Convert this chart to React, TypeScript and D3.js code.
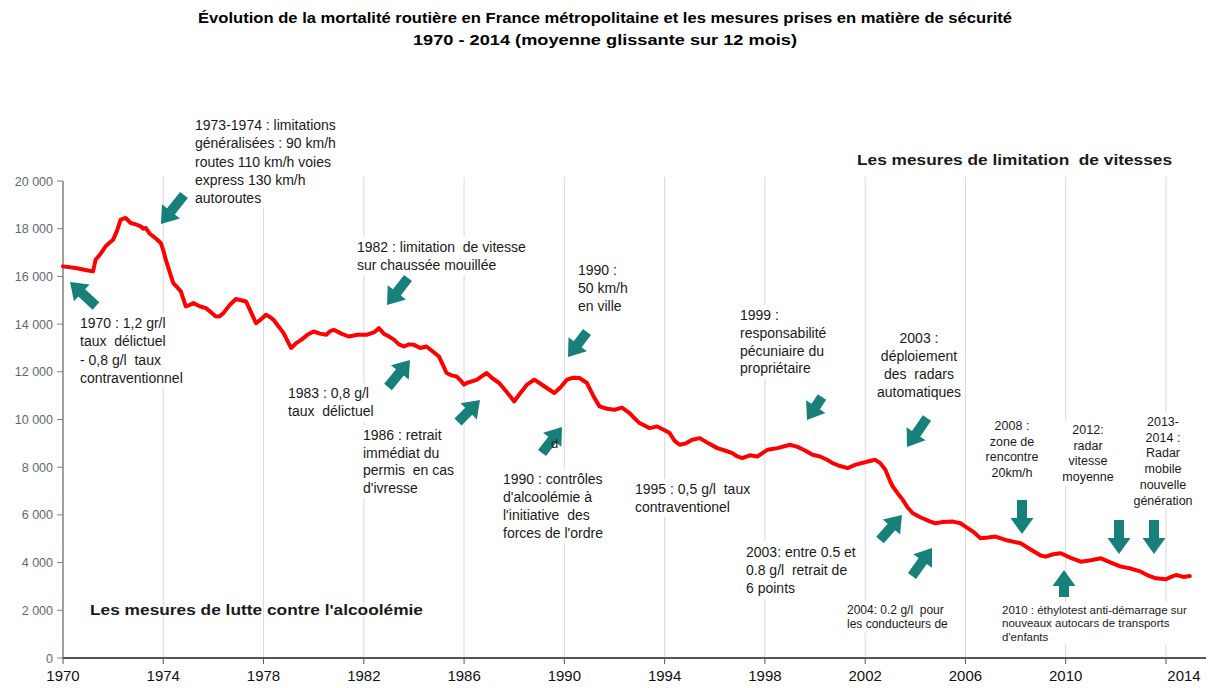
import * as d3 from "d3";
import { useEffect, useRef } from "react";

// road deaths, 12-month rolling average
const years = [
	1970.0, 1970.5, 1971.0, 1971.2, 1971.3, 1971.5, 1971.7, 1971.9, 1972.0, 1972.15, 1972.3, 1972.5, 1972.7, 1972.9,
	1973.1, 1973.2, 1973.3, 1973.45, 1973.6, 1973.75, 1973.9, 1974.0, 1974.1, 1974.25, 1974.4, 1974.55, 1974.7, 1974.9,
	1975.05, 1975.2, 1975.45, 1975.7, 1975.9, 1976.1, 1976.25, 1976.4, 1976.65, 1976.9, 1977.1, 1977.3, 1977.5, 1977.7,
	1977.9, 1978.1, 1978.25, 1978.4, 1978.6, 1978.8, 1979.0, 1979.1, 1979.3, 1979.5, 1979.75, 1980.0, 1980.25, 1980.5,
	1980.65, 1980.8, 1981.1, 1981.4, 1981.75, 1982.1, 1982.4, 1982.6, 1982.8, 1983.0, 1983.2, 1983.4, 1983.6, 1983.8,
	1984.0, 1984.25, 1984.5, 1984.75, 1985.0, 1985.15, 1985.3, 1985.5, 1985.7, 1985.85, 1986.0, 1986.1, 1986.5, 1986.9,
	1987.1, 1987.4, 1987.7, 1988.0, 1988.2, 1988.5, 1988.8, 1989.05, 1989.3, 1989.6, 1989.85, 1990.1, 1990.35, 1990.6,
	1990.9, 1991.15, 1991.4, 1991.7, 1992.0, 1992.3, 1992.6, 1992.8, 1993.0, 1993.4, 1993.7, 1994.0, 1994.2, 1994.4,
	1994.6, 1994.85, 1995.1, 1995.4, 1995.75, 1996.1, 1996.4, 1996.7, 1996.9, 1997.1, 1997.4, 1997.7, 1998.1, 1998.5,
	1999.0, 1999.3, 1999.6, 1999.9, 2000.2, 2000.5, 2000.7, 2001.0, 2001.3, 2001.6, 2002.1, 2002.4, 2002.6, 2002.8,
	2003.0, 2003.1, 2003.3, 2003.5, 2003.7, 2003.9, 2004.2, 2004.6, 2004.8, 2005.1, 2005.5, 2005.8, 2006.0, 2006.3,
	2006.6, 2006.9, 2007.2, 2007.6, 2008.2, 2008.6, 2009.0, 2009.2, 2009.5, 2009.8, 2010.2, 2010.6, 2011.0, 2011.4,
	2011.8, 2012.2, 2012.6, 2013.0, 2013.3, 2013.6, 2014.0, 2014.2, 2014.4, 2014.7, 2014.95,
];
const deaths = [
	16420, 16350, 16250, 16210, 16700, 16950, 17260, 17450, 17540, 17900, 18380, 18450, 18240, 18180,
	18100, 18000, 18030, 17800, 17680, 17550, 17400, 17100, 16700, 16200, 15720, 15550, 15370, 14740,
	14800, 14880, 14750, 14670, 14500, 14320, 14330, 14460, 14800, 15050, 15000, 14950, 14500, 14040,
	14200, 14390, 14300, 14180, 13900, 13620, 13200, 13000, 13200, 13340, 13550, 13690, 13600, 13550,
	13700, 13760, 13600, 13480, 13550, 13550, 13650, 13830, 13600, 13480, 13350, 13150, 13060, 13150,
	13130, 13000, 13060, 12850, 12640, 12300, 11950, 11850, 11800, 11650, 11460, 11530, 11660, 11950,
	11750, 11530, 11150, 10760, 11050, 11450, 11670, 11500, 11320, 11110, 11350, 11670, 11750, 11740,
	11530, 11000, 10550, 10450, 10410, 10500, 10270, 10050, 9850, 9640, 9710, 9550, 9430, 9100,
	8940, 9000, 9150, 9220, 9000, 8800, 8700, 8590, 8450, 8380, 8500, 8450, 8730, 8800,
	8940, 8850, 8700, 8520, 8450, 8300, 8170, 8050, 7960, 8100, 8240, 8310, 8170, 7900,
	7400, 7190, 6900, 6630, 6300, 6070, 5900, 5720, 5650, 5700, 5720, 5650, 5510, 5300,
	5020, 5050, 5090, 4950, 4810, 4550, 4300, 4250, 4350, 4390, 4200, 4040, 4100, 4180,
	4000, 3830, 3750, 3620, 3450, 3340, 3300, 3400, 3480, 3400, 3440,
];

const yTicks = [0, 2000, 4000, 6000, 8000, 10000, 12000, 14000, 16000, 18000, 20000];
const xTickYears = [1970, 1974, 1978, 1982, 1986, 1990, 1994, 1998, 2002, 2006, 2010, 2014];

const titleLines = [
	"Évolution de la mortalité routière en France métropolitaine et les mesures prises en matière de sécurité",
	"1970 - 2014 (moyenne glissante sur 12 mois)",
];

interface Note {
	x: number;
	y: number;
	lines: string[];
	anchor?: string;
	size?: number;
	lh?: number;
	top?: boolean;
}

//text boxes, x/y = left (or centre) and first baseline, in pixels
const notes: Note[] = [
	{ x: 80, y: 328, lines: ["1970 : 1,2 gr/l", "taux  délictuel", "- 0,8 g/l  taux", "contraventionnel"] },
	{ x: 195, y: 130, lines: ["1973-1974 : limitations", "généralisées : 90 km/h", "routes 110 km/h voies", "express 130 km/h", "autoroutes"] },
	{ x: 357, y: 252, lines: ["1982 : limitation  de vitesse", "sur chaussée mouillée"] },
	{ x: 288, y: 398, lines: ["1983 : 0,8 g/l", "taux  délictuel"] },
	{ x: 363, y: 440, lh: 17.7, lines: ["1986 : retrait", "immédiat du", "permis  en cas", "d'ivresse"] },
	{ x: 503, y: 484, lh: 17.9, lines: ["1990 : contrôles", "d'alcoolémie à", "l'initiative  des", "forces de l'ordre"] },
	{ x: 551, y: 448, size: 13, top: true, lines: ["d"] },
	{ x: 578, y: 275, lh: 18, lines: ["1990 :", "50 km/h", "en ville"] },
	{ x: 635, y: 494, lh: 18, lines: ["1995 : 0,5 g/l  taux", "contraventionel"] },
	{ x: 740, y: 320, lh: 17.8, lines: ["1999 :", "responsabilité", "pécuniaire du", "propriétaire"] },
	{ x: 919, y: 343, anchor: "middle", lh: 18.1, lines: ["2003 :", "déploiement", "des  radars", "automatiques"] },
	{ x: 746, y: 557, lh: 18, lines: ["2003: entre 0.5 et", "0.8 g/l  retrait de", "6 points"] },
	{ x: 847, y: 614, size: 12, lh: 14, lines: ["2004: 0.2 g/l  pour", "les conducteurs de"] },
	{ x: 1012, y: 430, anchor: "middle", size: 12.5, lh: 15.7, lines: ["2008 :", "zone de", "rencontre", "20km/h"] },
	{ x: 1088, y: 434, anchor: "middle", size: 12.5, lh: 15.6, lines: ["2012:", "radar", "vitesse", "moyenne"] },
	{ x: 1163, y: 426, anchor: "middle", size: 12.5, lh: 15.7, lines: ["2013-", "2014 :", "Radar", "mobile", "nouvelle", "génération"] },
	{ x: 1002, y: 614, size: 11.5, lh: 13.3, lines: ["2010 : éthylotest anti-démarrage sur", "nouveaux autocars de transports", "d'enfants"] },
];

//block arrows: tail -> tip, pixels
const arrows: [number, number, number, number][] = [
	[96, 306, 70, 282],
	[184, 195, 161, 224],
	[408, 278, 387, 305],
	[388, 387, 410, 360],
	[458, 422, 480, 400],
	[542, 453, 562, 427],
	[587, 332, 568, 357],
	[822, 397, 807, 420],
	[927, 418, 907, 447],
	[880, 540, 902, 515],
	[912, 576, 932, 548],
	[1022, 500, 1022, 534],
	[1119, 520, 1119, 554],
	[1154, 520, 1154, 554],
	[1064, 597, 1064, 570],
];

const FONT = "'Liberation Sans', Arial, Helvetica, sans-serif";
const TEAL = "#17807b";

const arrowPoints = (sx: number, sy: number, tx: number, ty: number) => {
	const shaft = 10, head = 23, headLen = 16;
	const L = Math.hypot(tx - sx, ty - sy);
	const ux = (tx - sx) / L, uy = (ty - sy) / L;
	const nx = -uy, ny = ux;
	const bx = tx - ux * headLen, by = ty - uy * headLen;
	const pts = [
		[sx + (nx * shaft) / 2, sy + (ny * shaft) / 2],
		[bx + (nx * shaft) / 2, by + (ny * shaft) / 2],
		[bx + (nx * head) / 2, by + (ny * head) / 2],
		[tx, ty],
		[bx - (nx * head) / 2, by - (ny * head) / 2],
		[bx - (nx * shaft) / 2, by - (ny * shaft) / 2],
		[sx - (nx * shaft) / 2, sy - (ny * shaft) / 2],
	];
	return pts.map((p) => p.join(",")).join(" ");
};

const drawNote = (parent: d3.Selection<SVGGElement, unknown, null, undefined>, n: Note) => {
	const size = n.size ?? 14;
	const lh = n.lh ?? 18.3;
	const g = parent.append("g");
	const box = g.append("rect").attr("fill", "white");
	const t = g
		.append("text")
		.attr("font-family", FONT)
		.attr("font-size", size)
		.attr("fill", "#1a1a1a")
		.attr("text-anchor", n.anchor ?? "start")
		.style("white-space", "pre");
	n.lines.forEach((line, i) => {
		t.append("tspan").attr("x", n.x).attr("y", n.y + i * lh).text(line);
	});
	if (n.top) {
		box.remove();
		return;
	}
	const bb = (t.node() as SVGTextElement).getBBox();
	box
		.attr("x", bb.x - 4)
		.attr("y", bb.y - 2)
		.attr("width", bb.width + 8)
		.attr("height", bb.height + 4);
};

const App = () => {
	const svgRef = useRef<SVGSVGElement | null>(null);

	useEffect(() => {
		const svg = d3.select(svgRef.current);
		svg.selectAll("*").remove();

		const x = d3.scaleLinear().domain([1970, 2014]).range([63, 1166]);
		const y = d3.scaleLinear().domain([0, 20000]).range([658, 181]);

		svg.append("rect").attr("width", 1212).attr("height", 688).attr("fill", "white");

		//vertical gridlines
		svg
			.append("g")
			.selectAll("line")
			.data(xTickYears.slice(1))
			.enter()
			.append("line")
			.attr("x1", (d) => x(d))
			.attr("x2", (d) => x(d))
			.attr("y1", 177)
			.attr("y2", 658)
			.attr("stroke", "#d9d9d9")
			.attr("stroke-width", 1);

		//title
		svg
			.append("g")
			.selectAll("text")
			.data(titleLines)
			.enter()
			.append("text")
			.attr("x", 605)
			.attr("y", (d, i) => 23 + i * 22)
			.attr("text-anchor", "middle")
			.attr("font-family", "'Liberation Sans Narrow', 'Arial Narrow', " + FONT)
			.attr("font-weight", "bold")
			.attr("font-size", 15)
			.attr("textLength", (d, i) => (i === 0 ? 814 : 384))
			.attr("lengthAdjust", "spacingAndGlyphs")
			.text((d) => d);

		//annotations with white boxes
		const noteG = svg.append("g");
		notes.filter((n) => !n.top).forEach((n) => drawNote(noteG, n));

		//section headers
		const headers = [
			{ text: "Les mesures de limitation  de vitesses", x: 857, y: 165, w: 315 },
			{ text: "Les mesures de lutte contre l'alcoolémie", x: 90, y: 615, w: 333 },
		];
		svg
			.append("g")
			.selectAll("text")
			.data(headers)
			.enter()
			.append("text")
			.attr("x", (d) => d.x)
			.attr("y", (d) => d.y)
			.attr("font-family", FONT)
			.attr("font-weight", "bold")
			.attr("font-size", 15)
			.attr("fill", "#1a1a1a")
			.attr("textLength", (d) => d.w)
			.attr("lengthAdjust", "spacingAndGlyphs")
			.style("white-space", "pre")
			.text((d) => d.text);

		//y axis
		const yAxisG = svg.append("g").attr("transform", "translate(63,0)");
		yAxisG
			.append("line")
			.attr("y1", y(20000))
			.attr("y2", y(0))
			.attr("stroke", "#808080")
			.attr("stroke-width", 1.5);
		const yt = yAxisG.selectAll("g.tick").data(yTicks).enter().append("g").attr("class", "tick");
		yt.append("line")
			.attr("x1", -6)
			.attr("x2", 0)
			.attr("y1", (d) => y(d))
			.attr("y2", (d) => y(d))
			.attr("stroke", "#808080");
		yt.append("text")
			.attr("x", -10)
			.attr("y", (d) => y(d) + 4.5)
			.attr("text-anchor", "end")
			.attr("font-family", FONT)
			.attr("font-size", 12.5)
			.attr("fill", "#5d6878")
			.text((d) => d3.format(",")(d).replace(/,/g, " "));

		//x axis
		const xAxisG = svg.append("g");
		xAxisG
			.append("line")
			.attr("x1", 63)
			.attr("x2", 1206)
			.attr("y1", 658)
			.attr("y2", 658)
			.attr("stroke", "#555")
			.attr("stroke-width", 2);
		xAxisG
			.selectAll("line.tk")
			.data(xTickYears)
			.enter()
			.append("line")
			.attr("class", "tk")
			.attr("x1", (d) => x(d))
			.attr("x2", (d) => x(d))
			.attr("y1", 658)
			.attr("y2", 664)
			.attr("stroke", "#555");
		xAxisG
			.selectAll("text")
			.data(xTickYears)
			.enter()
			.append("text")
			.attr("x", (d) => (d === 2014 ? x(d) + 18 : x(d)))
			.attr("y", 681)
			.attr("text-anchor", "middle")
			.attr("font-family", FONT)
			.attr("font-size", 15)
			.attr("fill", "#111")
			.text((d) => d);

		//red line
		const pts = years.map((yr, i) => [yr, deaths[i]] as [number, number]);
		const line = d3
			.line<[number, number]>()
			.x((d) => x(d[0]))
			.y((d) => y(d[1]));
		svg
			.append("path")
			.datum(pts)
			.attr("d", line)
			.attr("fill", "none")
			.attr("stroke", "#ff0000")
			.attr("stroke-width", 4)
			.attr("stroke-linejoin", "round")
			.attr("stroke-linecap", "round");

		//arrows
		svg
			.append("g")
			.selectAll("polygon")
			.data(arrows)
			.enter()
			.append("polygon")
			.attr("points", (d) => arrowPoints(d[0], d[1], d[2], d[3]))
			.attr("fill", TEAL);

		//stray glyph drawn over the arrow
		const topG = svg.append("g");
		notes.filter((n) => n.top).forEach((n) => drawNote(topG, n));
	}, []);

	return (
		<svg
			ref={svgRef}
			width={1212}
			height={688}
			style={{ position: "absolute", left: 0, top: 0 }}
		/>
	);
};

export default App;
